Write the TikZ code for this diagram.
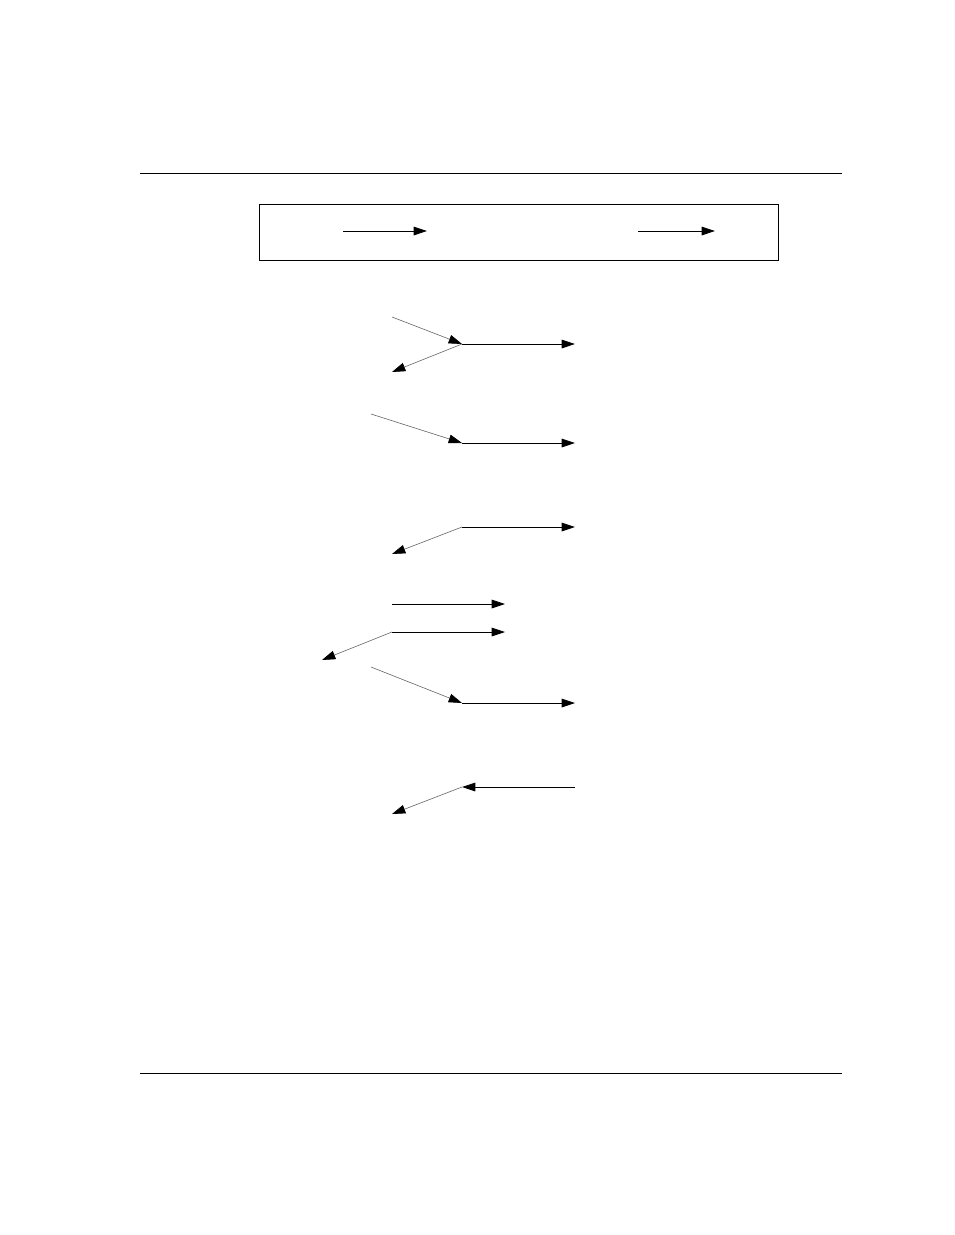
\documentclass[tikz,border=0pt]{standalone}
\usepackage{tikz}
\usetikzlibrary{arrows.meta}

\tikzset{
  main/.style={draw=black, line width=0.6pt, -{Triangle[length=10pt,width=6.5pt,black]}},
  side/.style={draw={rgb,255:red,100;green,100;blue,100}, line width=0.45pt, -{Triangle[length=10pt,width=6.5pt,black]}},
  rule/.style={draw=black, line width=0.75pt}
}

\begin{document}
\begin{tikzpicture}[x=0.75pt,y=0.75pt,yscale=-1,xscale=1]
  \useasboundingbox (0,0) rectangle (954,1235);

  %Rules top and bottom
  \coordinate (tl) at (140,173);
  \coordinate (tr) at (842,173);
  \coordinate (bl) at (140,1073);
  \coordinate (br) at (842,1073);
  \draw [rule] (tl) -- (tr);
  \draw [rule] (bl) -- (br);

  %Shape: Rectangle
  \draw [line width=0.6pt] (259,204) rectangle (778,260);
  \coordinate (ka) at (343,231);
  \coordinate (kb) at (427,231);
  \coordinate (kc) at (638,231);
  \coordinate (kd) at (715,231);
  \draw [main] (ka) -- (kb);
  \draw [main] (kc) -- (kd);

  %Group one
  \coordinate (ain) at (392,317);
  \coordinate (aj) at (462,344);
  \coordinate (aout) at (575,344);
  \coordinate (aback) at (392,372);
  \draw [side] (ain) -- (aj);
  \draw [main] (aj) -- (aout);
  \draw [side] (aj) -- (aback);

  %Group two
  \coordinate (bin) at (371,414);
  \coordinate (bj) at (462,443);
  \coordinate (bout) at (575,443);
  \draw [side] (bin) -- (bj);
  \draw [main] (bj) -- (bout);

  %Group three
  \coordinate (cj) at (462,527);
  \coordinate (cout) at (575,527);
  \coordinate (cback) at (392,554);
  \draw [main] (cj) -- (cout);
  \draw [side] (cj) -- (cback);

  %Group four
  \coordinate (dj) at (392,604);
  \coordinate (dout) at (505,604);
  \draw [main] (dj) -- (dout);

  %Group five
  \coordinate (ej) at (392,632);
  \coordinate (eout) at (505,632);
  \coordinate (eback) at (322,660);
  \draw [main] (ej) -- (eout);
  \draw [side] (ej) -- (eback);

  %Group six
  \coordinate (fin) at (371,667);
  \coordinate (fj) at (462,703);
  \coordinate (fout) at (575,703);
  \draw [side] (fin) -- (fj);
  \draw [main] (fj) -- (fout);

  %Group seven
  \coordinate (gin) at (575,787);
  \coordinate (gj) at (462,787);
  \coordinate (gback) at (392,814);
  \draw [main] (gin) -- (gj);
  \draw [side] (gj) -- (gback);

\end{tikzpicture}
\end{document}
